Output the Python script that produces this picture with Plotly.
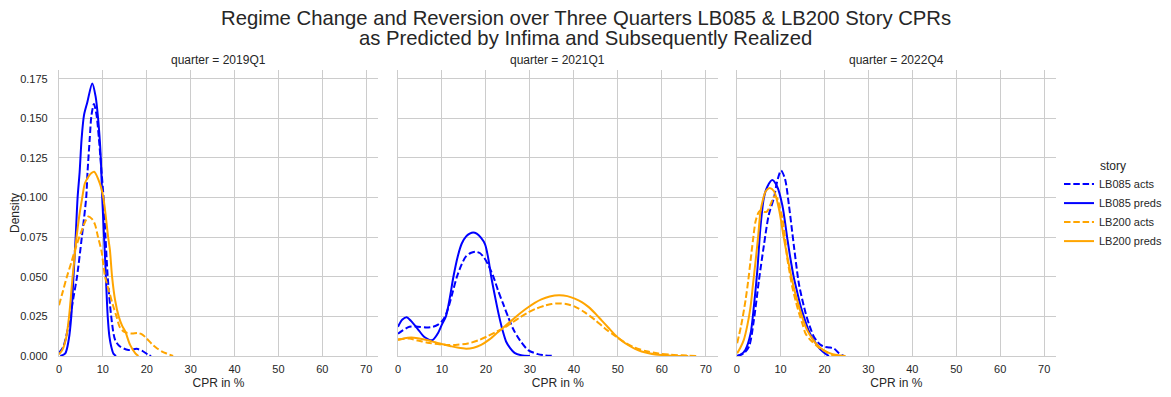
import plotly.graph_objects as go

# ---------------- data ----------------
quarters = ["2019Q1", "2021Q1", "2022Q4"]
stories = ["LB085 acts", "LB085 preds", "LB200 acts", "LB200 preds"]
x_ticks = [0, 10, 20, 30, 40, 50, 60, 70]
y_ticks = [0.0, 0.025, 0.05, 0.075, 0.1, 0.125, 0.15, 0.175]

# 2019Q1
q19_lb085_acts_x = [0, 1.0, 2.0, 2.6, 3.3, 4.1, 5.2, 6.2, 6.5, 7.0, 7.4, 7.96, 8.56, 9.1, 9.7, 10.15,
                    10.6, 11.1, 11.9, 12.8, 13.9, 15.8, 17.7, 18.9, 20.4, 21.0]
q19_lb085_acts_y = [0.002, 0.006, 0.017, 0.025, 0.037, 0.05, 0.075, 0.100, 0.116, 0.137, 0.152, 0.159,
                    0.152, 0.137, 0.116, 0.100, 0.075, 0.050, 0.025, 0.010, 0.006, 0.0038, 0.0045,
                    0.0034, 0.0006, 0.0]
q19_lb085_preds_x = [0.3, 1.43, 2.2, 2.8, 3.3, 3.8, 4.24, 4.7, 5.15, 5.7, 6.44, 7.58, 8.33, 8.94, 9.47,
                     9.85, 10.5, 11.1, 11.5, 11.9, 12.4, 13.0]
q19_lb085_preds_y = [0.0, 0.0017, 0.010, 0.025, 0.05, 0.075, 0.100, 0.116, 0.137, 0.152, 0.160, 0.172,
                     0.164, 0.149, 0.128, 0.100, 0.062, 0.025, 0.012, 0.006, 0.0015, 0.0]
q19_lb200_acts_x = [0, 0.8, 1.8, 2.8, 4.0, 5.15, 6.0, 6.67, 7.5, 8.2, 8.9, 9.7, 10.5, 11.5, 12.3, 13.1,
                    13.9, 15.0, 16.6, 18.0, 19.0, 20.0, 21.2, 22.3, 23.5, 24.6, 26.0]
q19_lb200_acts_y = [0.032, 0.040, 0.05, 0.059, 0.070, 0.079, 0.085, 0.088, 0.0865, 0.083, 0.075, 0.066,
                    0.05, 0.040, 0.032, 0.025, 0.018, 0.0150, 0.0142, 0.0145, 0.0135, 0.011, 0.0075,
                    0.0049, 0.0028, 0.0015, 0.0]
q19_lb200_preds_x = [0, 0.8, 1.6, 2.3, 3.1, 3.6, 4.0, 4.6, 5.3, 5.9, 6.67, 7.4, 8.0, 9.3, 10.1, 11.2,
                     11.6, 12.1, 12.8, 13.6, 14.4, 15.1, 16.2, 17.4, 18.1]
q19_lb200_preds_y = [0.001, 0.004, 0.011, 0.025, 0.05, 0.064, 0.075, 0.088, 0.100, 0.109, 0.113,
                     0.1155, 0.1163, 0.109, 0.100, 0.075, 0.067, 0.050, 0.035, 0.025, 0.019, 0.0155,
                     0.007, 0.0017, 0.0]

# 2021Q1
q21_lb085_acts_x = [0, 1.0, 2.6, 4.5, 6.5, 8.0, 9.2, 10.0, 10.7, 11.5, 12.5, 13.4, 14.5, 15.5, 16.5,
                    17.6, 18.6, 19.6, 20.6, 21.7, 22.8, 23.9, 25.0, 26.2, 27.7, 29.6, 31.8, 33.5, 35.5]
q21_lb085_acts_y = [0.014, 0.016, 0.0185, 0.0185, 0.018, 0.0185, 0.020, 0.022, 0.025, 0.031, 0.041,
                    0.050, 0.058, 0.063, 0.065, 0.0658, 0.065, 0.062, 0.057, 0.050, 0.041, 0.033,
                    0.025, 0.017, 0.010, 0.0037, 0.0012, 0.0004, 0.0]
q21_lb085_preds_x = [0, 1.0, 2.0, 3.0, 4.5, 6.0, 7.8, 9.0, 10.0, 10.9, 11.8, 12.6, 13.6, 14.5, 15.5,
                     16.3, 17.1, 17.9, 18.9, 19.8, 20.5, 21.2, 22.1, 23.0, 23.8, 24.6, 25.5, 26.5, 28.0,
                     30.0]
q21_lb085_preds_y = [0.0185, 0.023, 0.0244, 0.022, 0.017, 0.012, 0.010, 0.014, 0.020, 0.025, 0.037,
                     0.050, 0.063, 0.071, 0.0755, 0.0772, 0.078, 0.0772, 0.0745, 0.0705, 0.062, 0.050,
                     0.037, 0.025, 0.016, 0.009, 0.005, 0.002, 0.0005, 0.0]
q21_lb200_acts_x = [0, 2.5, 4.5, 6.7, 9.0, 11.5, 13.5, 15.9, 18.2, 20.4, 22.3, 24.2, 26.0, 27.8, 29.6,
                    31.5, 33.4, 34.9, 36.3, 38.2, 40.2, 42.5, 44.8, 47.0, 49.3, 51.6, 53.9, 56.5, 59.2,
                    62.0, 64.6, 68.0]
q21_lb200_acts_y = [0.0105, 0.0110, 0.0098, 0.0084, 0.0075, 0.0069, 0.0071, 0.0079, 0.0098, 0.0125,
                    0.0152, 0.0180, 0.0212, 0.0245, 0.0275, 0.0300, 0.0318, 0.0328, 0.0332, 0.0328,
                    0.0312, 0.0275, 0.0228, 0.0175, 0.0128, 0.0085, 0.0052, 0.0030, 0.0016, 0.0008,
                    0.0004, 0.0]
q21_lb200_preds_x = [0, 1.5, 3.0, 4.5, 6.0, 7.5, 9.0, 10.5, 12.0, 13.5, 15.5, 17.2, 18.9, 20.8, 22.7,
                     24.6, 26.5, 28.0, 29.6, 31.1, 32.6, 34.5, 36.6, 38.5, 40.2, 41.8, 43.3, 44.8, 46.3,
                     47.8, 49.3, 50.8, 52.4, 53.9, 55.4, 57.0, 58.5, 60.5, 62.5, 66.0]
q21_lb200_preds_y = [0.0100, 0.0112, 0.0116, 0.0112, 0.0104, 0.0094, 0.0083, 0.0072, 0.0062, 0.0053,
                     0.0046, 0.0052, 0.0070, 0.0105, 0.0150, 0.0195, 0.0240, 0.0275, 0.0308, 0.0335,
                     0.0357, 0.0375, 0.0383, 0.0378, 0.0362, 0.0340, 0.0310, 0.0270, 0.0225, 0.0180,
                     0.0135, 0.0098, 0.0068, 0.0045, 0.0028, 0.0017, 0.0010, 0.0005, 0.0002, 0.0]

# 2022Q4
q22_lb085_acts_x = [0.1, 1.5, 2.8, 3.9, 5.05, 6.2, 7.3, 8.5, 9.2, 10.1, 10.98, 11.9, 13.0, 14.2, 15.7,
                    16.6, 17.6, 18.4, 19.1, 20.0, 21.0, 22.1, 23.3, 24.4]
q22_lb085_acts_y = [0.0, 0.0015, 0.006, 0.0225, 0.0475, 0.070, 0.089, 0.100, 0.110, 0.117, 0.112,
                    0.095, 0.070, 0.045, 0.027, 0.019, 0.012, 0.009, 0.007, 0.0058, 0.0054, 0.0048,
                    0.0017, 0.0]
q22_lb085_preds_x = [0.1, 1.0, 2.0, 3.15, 3.9, 4.7, 5.4, 6.2, 7.0, 8.1, 9.2, 10.4, 11.5, 12.2, 13.0,
                     13.8, 14.6, 15.5, 16.4, 17.3, 18.3, 19.1, 19.9, 21.0]
q22_lb085_preds_y = [0.0, 0.001, 0.004, 0.014, 0.031, 0.054, 0.081, 0.100, 0.107, 0.111, 0.107, 0.095,
                     0.0746, 0.062, 0.0496, 0.040, 0.031, 0.023, 0.016, 0.011, 0.0069, 0.004, 0.002,
                     0.0]
q22_lb200_acts_x = [0.1, 1.0, 2.0, 2.6, 3.15, 3.7, 4.3, 5.05, 5.6, 6.2, 6.8, 7.3, 7.9, 8.5, 9.2, 9.8,
                    10.4, 11.0, 11.5, 12.1, 12.7, 13.5, 14.2, 15.0, 15.7, 16.5, 17.2, 18.0, 18.7, 19.5,
                    20.3, 21.8, 22.9]
q22_lb200_acts_y = [0.008, 0.019, 0.035, 0.047, 0.06, 0.073, 0.085, 0.091, 0.092, 0.091, 0.091, 0.093,
                    0.097, 0.1006, 0.0996, 0.094, 0.087, 0.075, 0.062, 0.052, 0.043, 0.034, 0.027,
                    0.020, 0.014, 0.011, 0.009, 0.007, 0.0054, 0.004, 0.0027, 0.0006, 0.0]
q22_lb200_preds_x = [0.1, 0.8, 1.6, 2.4, 3.15, 3.7, 4.3, 4.9, 5.4, 6.0, 6.6, 7.5, 8.5, 9.6, 10.7, 11.5,
                     12.3, 13.2, 14.2, 15.1, 16.1, 17.2, 18.3, 19.6, 21.0, 22.8, 24.8]
q22_lb200_preds_y = [0.0017, 0.005, 0.010, 0.019, 0.031, 0.045, 0.060, 0.076, 0.091, 0.099, 0.104,
                     0.106, 0.104, 0.093, 0.075, 0.063, 0.052, 0.041, 0.031, 0.023, 0.016, 0.011,
                     0.007, 0.004, 0.002, 0.0006, 0.0]

series = {
    "2019Q1": [(q19_lb085_acts_x, q19_lb085_acts_y), (q19_lb085_preds_x, q19_lb085_preds_y),
               (q19_lb200_acts_x, q19_lb200_acts_y), (q19_lb200_preds_x, q19_lb200_preds_y)],
    "2021Q1": [(q21_lb085_acts_x, q21_lb085_acts_y), (q21_lb085_preds_x, q21_lb085_preds_y),
               (q21_lb200_acts_x, q21_lb200_acts_y), (q21_lb200_preds_x, q21_lb200_preds_y)],
    "2022Q4": [(q22_lb085_acts_x, q22_lb085_acts_y), (q22_lb085_preds_x, q22_lb085_preds_y),
               (q22_lb200_acts_x, q22_lb200_acts_y), (q22_lb200_preds_x, q22_lb200_preds_y)],
}

# ---------------- styling ----------------
colors = ["blue", "blue", "orange", "orange"]
dashes = ["6.5px,2.8px", "solid", "6.5px,2.8px", "solid"]
FONT = "Liberation Sans, Arial, sans-serif"
TXT = "#262626"
GRID = "#cccccc"

# the page body has an 8px margin: the figure is drawn 8px right and down
OFF = 8
WIN_W, WIN_H = 1171, 397
W, H = WIN_W - OFF, WIN_H - OFF
# plot area in window pixels
PL, PR, PT, PB = 59.0, 1056.0, 70.0, 356.0
ML, MR, MT, MB = PL - OFF, WIN_W - PR, PT - OFF, WIN_H - PB
PW = PR - PL
PH = PB - PT


def fx(px):
    return (px - PL) / PW


def fy(py):
    return (PB - py) / PH


domains = [[0.0, fx(378.0)], [fx(398.0), fx(717.7)], [fx(736.7), 1.0]]

fig = go.Figure()
for qi, q in enumerate(quarters):
    for si, s in enumerate(stories):
        xs, ys = series[q][si]
        fig.add_trace(go.Scatter(
            x=xs, y=ys, mode="lines", name=s,
            line=dict(color=colors[si], width=2, dash=dashes[si], shape="spline", smoothing=0.8),
            showlegend=(qi == 0), legendgroup=s,
            xaxis="x" if qi == 0 else f"x{qi + 1}",
            yaxis="y" if qi == 0 else f"y{qi + 1}",
            hoverinfo="skip",
        ))

layout = dict(
    width=W, height=H,
    margin=dict(l=ML, r=MR, t=MT, b=MB, pad=0, autoexpand=False),
    paper_bgcolor="white", plot_bgcolor="white",
    font=dict(family=FONT, size=11, color=TXT),
    showlegend=True,
    legend=dict(
        x=fx(1059), y=fy(154), xanchor="left", yanchor="top",
        title=dict(text="story", side="top center", font=dict(size=12, color=TXT)),
        font=dict(size=11, color=TXT), itemwidth=30, bgcolor="rgba(0,0,0,0)",
        tracegroupgap=0, borderwidth=0,
    ),
)
for i in range(3):
    xa = "xaxis" if i == 0 else f"xaxis{i + 1}"
    ya = "yaxis" if i == 0 else f"yaxis{i + 1}"
    layout[xa] = dict(
        domain=domains[i], range=[0, 72.7], anchor="y" if i == 0 else f"y{i + 1}",
        tickvals=x_ticks, ticks="", showgrid=True, gridcolor=GRID, gridwidth=1,
        zeroline=False, showline=True, linecolor=GRID, linewidth=1.25, automargin=False,
        tickfont=dict(size=11, color=TXT), ticklabelstandoff=3,
        title=dict(text="CPR in %", font=dict(size=12, color=TXT), standoff=4),
    )
    layout[ya] = dict(
        domain=[0, 1], range=[0, 0.1805], anchor="x" if i == 0 else f"x{i + 1}",
        tickvals=y_ticks, tickformat=".3f", ticks="", showgrid=True, gridcolor=GRID,
        gridwidth=1, zeroline=False, showline=True, linecolor=GRID, linewidth=1.25,
        automargin=False,
        showticklabels=(i == 0), tickfont=dict(size=11, color=TXT), ticklabelstandoff=8,
    )
    if i > 0:
        layout[ya]["matches"] = "y"
layout["yaxis"]["title"] = dict(text="Density", font=dict(size=12, color=TXT), standoff=5)

annotations = []
for i, q in enumerate(quarters):
    annotations.append(dict(
        text=f"quarter = {q}", x=(domains[i][0] + domains[i][1]) / 2, y=fy(60),
        xref="paper", yref="paper", showarrow=False, xanchor="center", yanchor="middle",
        font=dict(size=12, color=TXT),
    ))
annotations.append(dict(
    text="Regime Change and Reversion over Three Quarters LB085 & LB200 Story CPRs",
    x=fx(585.5), y=fy(17.5), xref="paper", yref="paper", showarrow=False,
    xanchor="center", yanchor="middle", font=dict(size=20.3, color=TXT),
))
annotations.append(dict(
    text="as Predicted by Infima and Subsequently Realized",
    x=fx(585.5), y=fy(38.5), xref="paper", yref="paper", showarrow=False,
    xanchor="center", yanchor="middle", font=dict(size=20.3, color=TXT),
))
layout["annotations"] = annotations

fig.update_layout(**layout)
fig.write_html("out.html")
